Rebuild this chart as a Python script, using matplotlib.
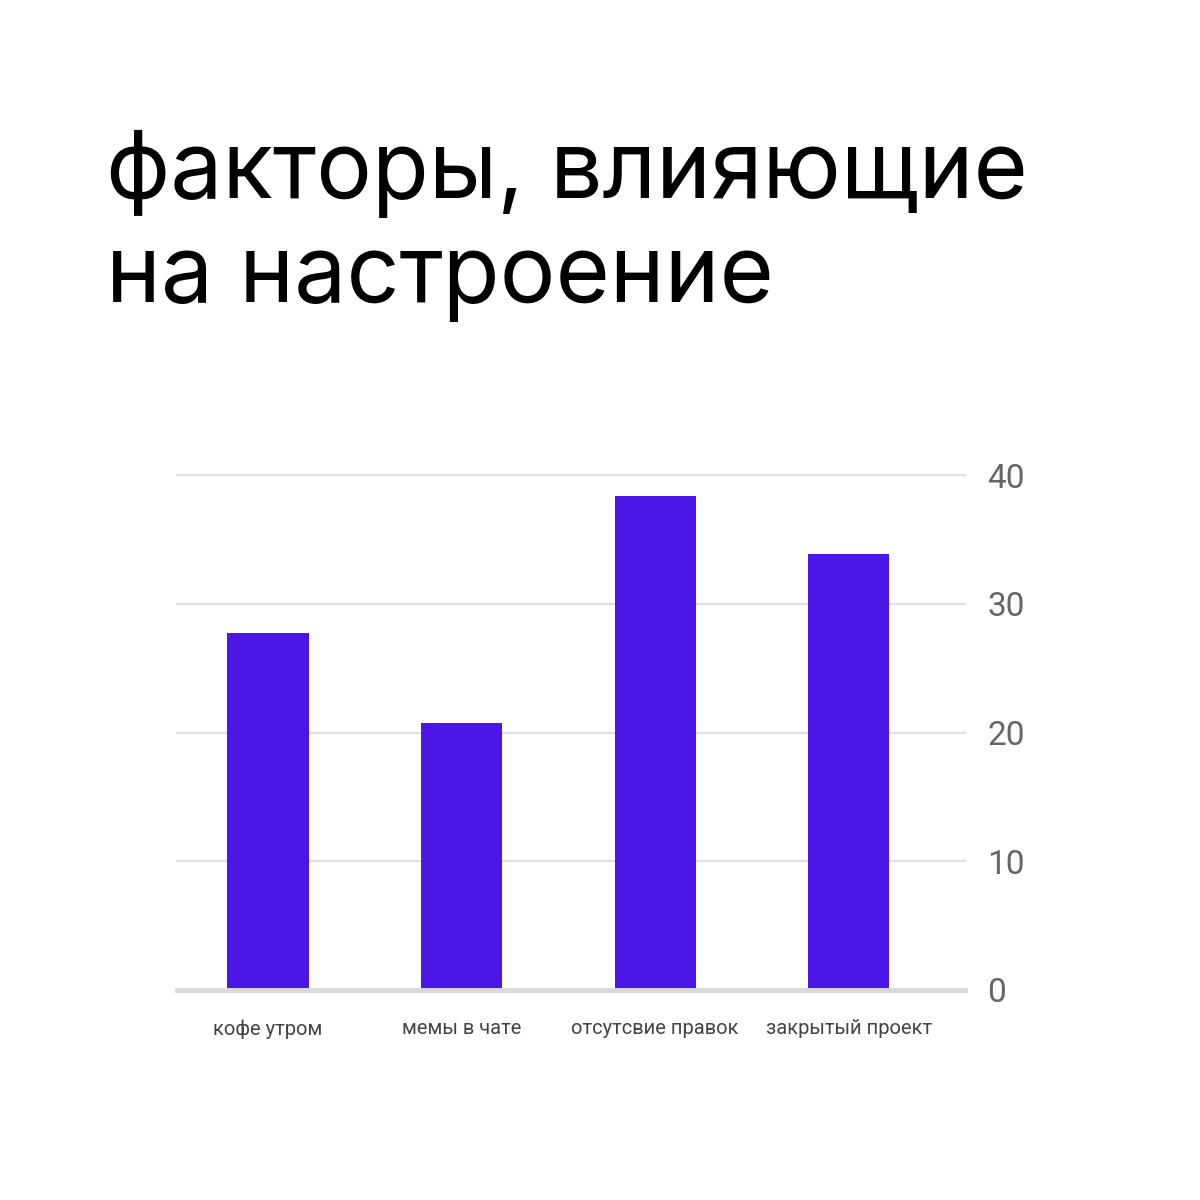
import matplotlib
matplotlib.use("Agg")
import matplotlib.pyplot as plt

categories = ["кофе утром", "мемы в чате", "отсутсвие правок", "закрытый проект"]
values = [27.7, 20.7, 38.4, 33.9]
y_ticks = [0, 10, 20, 30, 40]
title_lines = ["факторы, влияющие", "на настроение"]

bar_color = "#4A17E6"
grid_color = "#E0E0E0"

fig = plt.figure(figsize=(12, 12), dpi=100)
fig.patch.set_facecolor("white")

# title, one text per line so each baseline sits where it should
for line, base_px in zip(title_lines, [198, 302]):
    fig.text(106 / 1200, 1 - base_px / 1200, line, fontsize=67, family="Inter",
             color="black", ha="left", va="baseline")

ax = fig.add_axes([177 / 1200, 210 / 1200, 788 / 1200, 515 / 1200])
x = list(range(len(categories)))
ax.bar(x, values, width=0.42, color=bar_color, zorder=3)

ax.set_xlim(-0.47, 3.60)
ax.set_ylim(0, 40)
ax.set_yticks(y_ticks)
ax.set_xticks(x)
ax.set_xticklabels(categories, fontsize=14.5, family="Roboto", color="#444444")

ax.yaxis.tick_right()
ax.tick_params(axis="y", length=0, pad=16, labelsize=24, labelcolor="#666666")
ax.tick_params(axis="x", length=0, pad=21)
for lbl in ax.get_yticklabels():
    lbl.set_family("Roboto")

for t in y_ticks[1:]:
    ax.axhline(t, color=grid_color, linewidth=1.6, zorder=1, clip_on=False)
ax.axhline(0, color="#DADADA", linewidth=3.5, zorder=4, clip_on=False)

for s in ax.spines.values():
    s.set_visible(False)

fig.savefig("out.png", dpi=100, facecolor="white")
plt.close(fig)
